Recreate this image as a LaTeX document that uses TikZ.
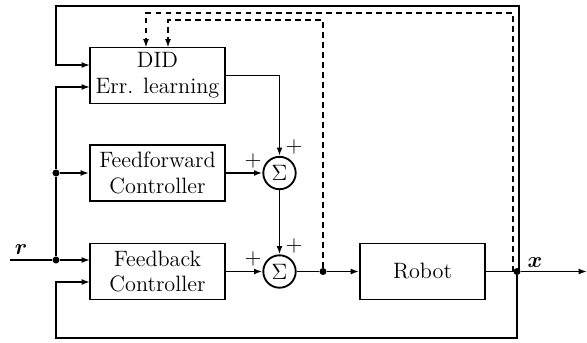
\documentclass[tikz,border=0pt]{standalone}
\usepackage{amsmath}
\usetikzlibrary{arrows.meta}
\begin{document}
\begin{tikzpicture}[x=0.54pt,y=-0.54pt, font=\fontsize{12}{14}\selectfont,
 blk/.style={draw, line width=1pt, minimum width=72.9pt, minimum height=30.2pt, align=center, inner sep=1pt},
 sumnode/.style={draw, circle, line width=1pt, minimum size=17.5pt, inner sep=0pt},
 wire/.style={line width=1pt},
 arr/.style={wire, -{Latex[length=4.5pt,width=3.2pt]}},
 dsh/.style={wire, dash pattern=on 3.2pt off 2.2pt, -{Latex[length=4.5pt,width=3.2pt]}},
 dot/.style={circle, fill, inner sep=0pt, minimum size=3.8pt}]
\useasboundingbox (0,0) rectangle (587,342);

\node[blk] (did) at (157.5,75.5) {DID\\Err. learning};
\node[blk] (ff) at (157.5,173) {Feedforward\\Controller};
\node[blk] (fb) at (157.5,271.5) {Feedback\\Controller};
\node[blk, minimum width=67.5pt] (rob) at (422.5,271.5) {Robot};
\node[sumnode] (s1) at (279.5,173) {$\Sigma$};
\node[sumnode] (s2) at (279.5,271.5) {$\Sigma$};

\coordinate (in) at (10,260);
\node[dot] (j1) at (56,260) {};
\node[dot] (j2) at (56,173) {};
\node[dot] (j3) at (323,271.5) {};
\node[dot] (j4) at (517,271.5) {};
\coordinate (out) at (587,271.5);
\coordinate (didA) at (90,65);
\coordinate (didB) at (90,87);
\coordinate (fbA) at (90,260);
\coordinate (fbB) at (90,282);

% input and reference distribution
\draw[wire] (in) -- (j1);
\draw[arr] (j1) -- (fbA);
\draw[wire] (j1) -- (j2);
\draw[arr] (j2) -- (ff.west);
\draw[arr] (j2) |- (didB);

% sums
\draw[arr] (did.east) -| (s1.north);
\draw[arr] (ff.east) -- (s1.west);
\draw[arr] (s1.south) -- (s2.north);
\draw[arr] (fb.east) -- (s2.west);
\draw[wire] (s2.east) -- (j3);
\draw[arr] (j3) -- (rob.west);
\draw[wire] (rob.east) -- (j4);
\draw[arr] (j4) -- (out);

% loops
\draw[arr] (519,271.5) |- (56,6) |- (didA);
\draw[arr] (j4) -- (517,338) -| (56,282) -- (fbB);

% dashed
\draw[dsh] (j3) |- (168,20) -- (168,47.5);
\draw[dsh] (513,271.5) |- (146,13) -- (146,47.5);

% labels
\node at (21,250) {$\boldsymbol{r}$};
\node at (535,263) {$\boldsymbol{x}$};
\node at (294,147) {$+$};
\node at (253,161) {$+$};
\node at (294,246) {$+$};
\node at (253,259) {$+$};
\end{tikzpicture}
\end{document}
